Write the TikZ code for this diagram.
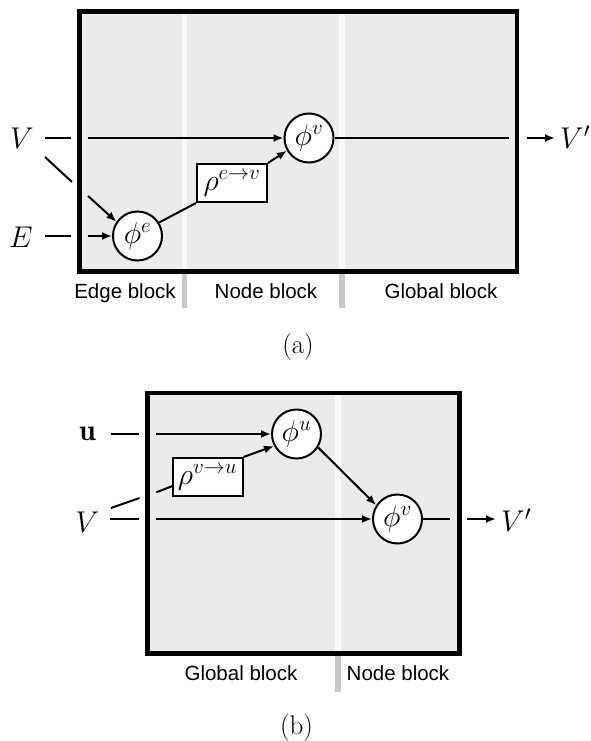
\RequirePackage{fix-cm}
\documentclass[tikz,border=0pt]{standalone}
\usepackage{fontspec}
\newfontfamily\labelfont{Liberation Sans}
\usetikzlibrary{arrows.meta}
\definecolor{boxfill}{RGB}{235,235,235}
\definecolor{stripin}{RGB}{249,249,249}
\definecolor{stripout}{RGB}{200,200,200}
\begin{document}
\begin{tikzpicture}[x=1pt,y=-1pt,
  conn/.style={line width=2pt},
  arr/.style={line width=2pt,-{Latex[length=10pt,width=8pt]}},
  fn/.style={circle,draw,line width=2pt,fill=white,minimum size=49pt,inner sep=0pt,font=\fontsize{30}{36}\selectfont},
  agg/.style={rectangle,draw,line width=2pt,fill=white,minimum width=70pt,minimum height=38pt,inner sep=0pt,font=\fontsize{30}{36}\selectfont},
  var/.style={inner sep=0pt,font=\fontsize{30}{36}\selectfont},
  blk/.style={inner sep=0pt,anchor=base,font=\labelfont\fontsize{20.5}{24}\selectfont},
  capt/.style={inner sep=0pt,font=\fontsize{27}{32}\selectfont},
  frame/.style={line width=4.5pt},
]
\useasboundingbox (0,0) rectangle (591,741);

% ---------- panel (a) ----------
\fill[boxfill] (79.5,11.5) rectangle (517,271.5);
\fill[stripin] (181.5,13) rectangle (186.5,270);
\fill[stripin] (339,13) rectangle (344.5,270);
\fill[stripout] (181.5,273) rectangle (186.5,308);
\fill[stripout] (339,273) rectangle (344.5,308);
\draw[frame] (79.5,11.5) rectangle (517,271.5);

\node[fn] (phva) at (309,138) {$\phi^v$};
\node[fn] (phea) at (137.5,236) {$\phi^e$};
\node[agg] (rhoa) at (232,183) {$\rho^{e\rightarrow v}$};
\node[var,anchor=base] (Va) at (22,148) {$V$};
\node[var,anchor=base] (Ea) at (21,247) {$E$};
\node[var,anchor=base west] (Vpa) at (560,148) {$V'$};

\coordinate (va1) at (45,138);
\coordinate (va2) at (71,138);
\coordinate (va3) at (88,138);
\draw[conn] (va1) -- (va2);
\draw[arr] (va3) -- (phva.west);

\coordinate (vo1) at (509,138);
\coordinate (vo2) at (527,138);
\coordinate (vo3) at (555,138);
\draw[conn] (phva.east) -- (vo1);
\draw[arr] (vo2) -- (vo3);

\coordinate (ea1) at (45,236);
\coordinate (ea2) at (71,236);
\coordinate (ea3) at (88,236);
\draw[conn] (ea1) -- (ea2);
\draw[arr] (ea3) -- (phea.west);

\coordinate (d1) at (45,157);
\coordinate (d2) at (72,182);
\coordinate (d3) at (88,196);
\draw[conn] (d1) -- (d2);
\draw[arr] (d3) -- (phea.146);

\draw[conn] (phea.32) -- (rhoa.south west);
\draw[arr] (rhoa.north east) -- (phva.210);

\node[blk] (eba) at (125,298) {Edge block};
\node[blk] (nba) at (266,298) {Node block};
\node[blk] (gba) at (441,298) {Global block};
\node[capt] (capa) at (298,347) {(a)};

% ---------- panel (b) ----------
\fill[boxfill] (147.5,393) rectangle (459.5,653.5);
\fill[stripin] (335,395) rectangle (340.5,651.5);
\fill[stripout] (335,655.5) rectangle (340.5,692);
\draw[frame] (147.5,393) rectangle (459.5,653.5);

\node[fn] (phu) at (296.5,434) {$\phi^u$};
\node[fn] (phvb) at (397.5,519) {$\phi^v$};
\node[agg] (rhob) at (207.5,477) {$\rho^{v\rightarrow u}$};
\node[var,anchor=base] (ub) at (87.5,440) {$\mathbf{u}$};
\node[var,anchor=base] (Vb) at (87.5,532) {$V$};
\node[var,anchor=base west] (Vpb) at (501,531) {$V'$};

\coordinate (u1) at (111,434);
\coordinate (u2) at (139,434);
\coordinate (u3) at (156,434);
\draw[conn] (u1) -- (u2);
\draw[arr] (u3) -- (phu.west);

\coordinate (w1) at (111,508);
\coordinate (w2) at (139.5,498);
\coordinate (w3) at (156.4,492.3);
\coordinate (w4) at (172.5,486);
\draw[conn] (w1) -- (w2);
\draw[conn] (w3) -- (w4);
\draw[arr] (rhob.north east) -- (phu.208);

\coordinate (x1) at (110,519);
\coordinate (x2) at (139,519);
\coordinate (x3) at (156,519);
\draw[conn] (x1) -- (x2);
\draw[arr] (x3) -- (phvb.west);

\draw[arr] (phu.-32) -- (phvb.147);

\coordinate (y1) at (449.5,519);
\coordinate (y2) at (467,519);
\coordinate (y3) at (496,519);
\draw[conn] (phvb.east) -- (y1);
\draw[arr] (y2) -- (y3);

\node[blk] (gbb) at (241,680) {Global block};
\node[blk] (nbb) at (398,680) {Node block};
\node[capt] (capb) at (296.5,728) {(b)};
\end{tikzpicture}
\end{document}
